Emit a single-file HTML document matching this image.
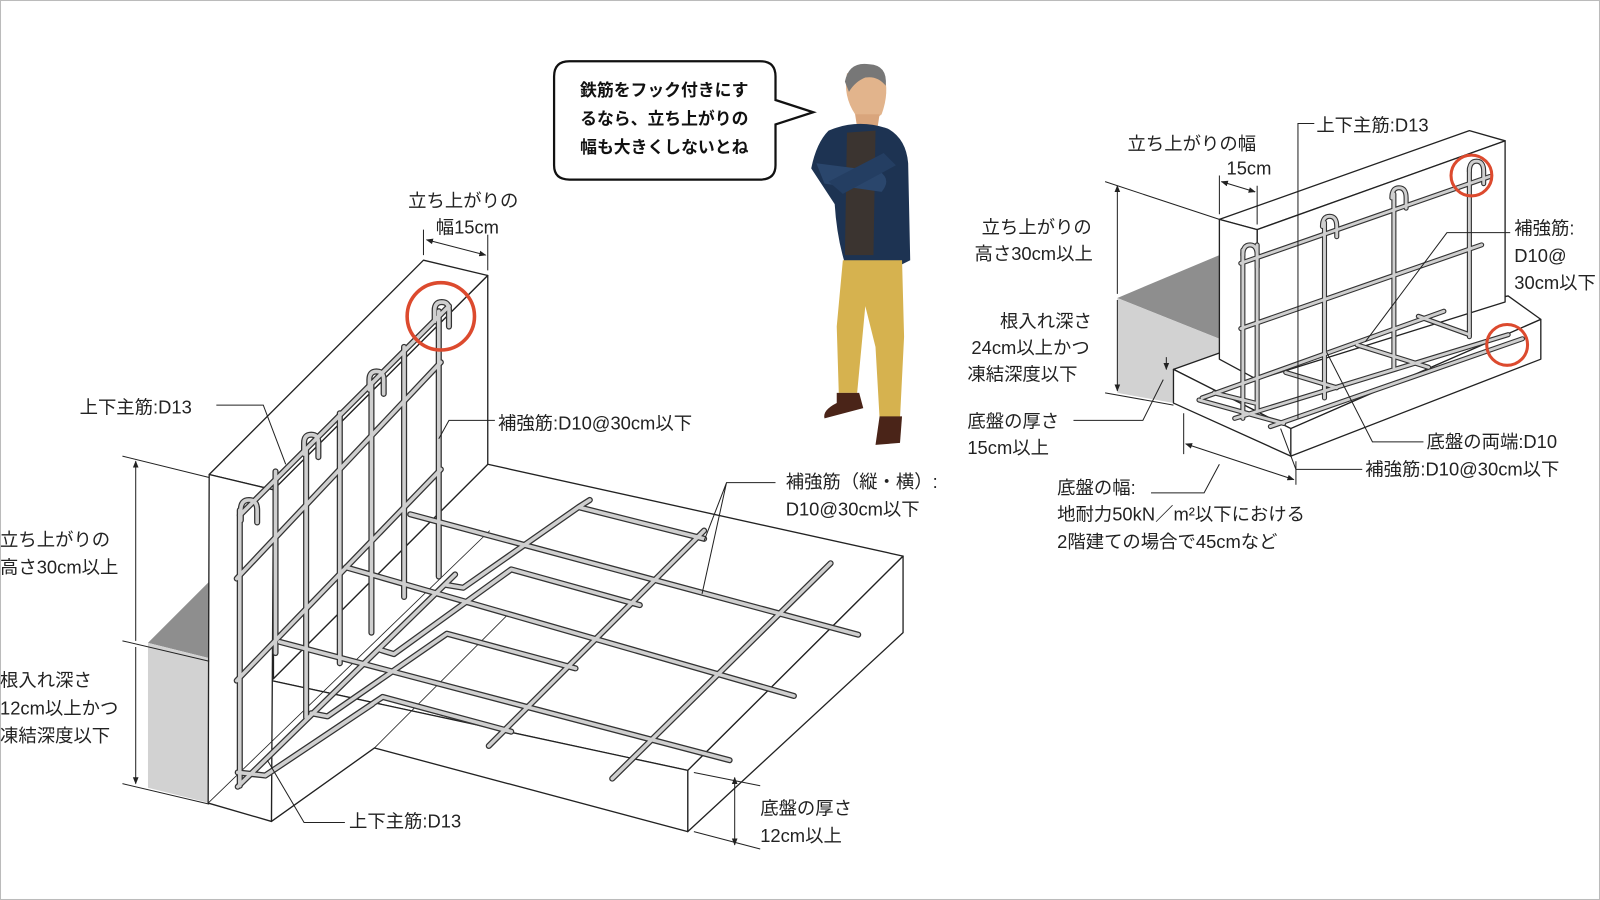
<!DOCTYPE html>
<html><head><meta charset="utf-8"><style>
html,body{margin:0;padding:0;background:#fff;}
svg{display:block;}
text{font-family:"Liberation Sans","Noto Sans CJK JP",sans-serif;font-size:18px;fill:#222;}
.b{font-weight:bold;font-size:16.5px;fill:#111;}
</style></head><body>
<svg width="1600" height="900" viewBox="0 0 1568 882" xmlns="http://www.w3.org/2000/svg">
<defs>
<marker id="ar" viewBox="0 0 10 10" refX="9" refY="5" markerWidth="7" markerHeight="7" orient="auto-start-reverse"><path d="M0,1 L10,5 L0,9 z" fill="#222"/></marker>
<g id="barsL" fill="none" stroke-linecap="round" stroke-linejoin="round">
<!-- slab long bars -->
<path d="M402,504 L841,622 M339,556 L778,682 M274,629 L715,745"/>
<!-- slab A-direction bars -->
<path d="M690,520 L479,731 M814,552 L600,763"/>
<!-- bent bars -->
<path d="M690,528 L567,497 L454,576 L436,573 M567,497 L578,490"/>
<path d="M627,593 L501,558 L386,641 L373,637"/>
<path d="M564,655 L438,621 L321,702 L305,699"/>
<path d="M501,717 L375,683 L260,760 L233,757"/>
<!-- wall verticals -->
<path d="M235,500 V770 M270,462 V640 M300,440 V703 M333,405 V650 M364,375 V620 M396,340 V585 M430,305 V565"/>
<!-- wall main bar and horizontals -->
<path d="M235,505 L440,300 M232,567 L432,355 M232,667 L432,460 M233,771 L446,563 M260,760 L365,690"/>
<!-- hooks -->
<path d="M236,510 V500 Q236,490 244,490 Q252,490 252,500 V512 M298,445 V434 Q298,426 305,426 Q312,426 312,434 V448 M362,382 V372 Q362,364 369,364 Q376,364 376,372 V386 M426,315 V304 Q426,296 433,296 Q440,296 440,304 V320"/>
</g>
<g id="barsR" fill="none" stroke-linecap="round" stroke-linejoin="round">
<path d="M1216,258 L1460,173 M1216,322 L1452,240 M1218,245 V410 M1232,240 V402 M1298,218 V390 M1366,190 V360 M1440,165 V330"/>
<path d="M1218,250 Q1218,240 1225,240 Q1232,240 1232,250 V262 M1296,222 Q1296,212 1303,212 Q1310,212 1310,222 V232 M1364,194 Q1364,184 1371,184 Q1378,184 1378,194 V204 M1440,168 Q1440,158 1447,158 Q1454,158 1454,168 V180"/>
<path d="M1178,390 L1415,305 M1210,410 L1478,328 M1245,418 L1492,332 M1175,392 L1258,415 M1260,365 L1310,380 M1330,338 L1400,360 M1390,310 L1440,328 M1190,385 L1230,395"/>
</g>
</defs>
<rect x="0.5" y="0.5" width="1567" height="881" fill="#fff" stroke="#bbb"/>

<!-- LEFT soil -->
<polygon points="145,630 205,570 205,645 145,630" fill="#8e8e8e"/>
<polygon points="145,630 205,645 205,787 145,772" fill="#d2d2d2"/>
<!-- slab -->
<g fill="#fff" stroke="#222" stroke-width="1.3" stroke-linejoin="round">
<polygon points="266,667 478,455 885,545 674,755"/>
<polygon points="674,755 885,545 885,620 674,815"/>
<polygon points="266,667 674,755 674,815 367,733 266,805"/>
<!-- wall -->
<polygon points="205,465 415,255 478,270 268,480"/>
<polygon points="268,480 478,270 478,455 268,665"/>
<polygon points="205,465 268,480 266,805 204,787"/>
</g>
<g stroke="#222" stroke-width="0.8" fill="none">
<path d="M204,787 L480,520 M266,805 L367,733 L500,600"/>
</g>
<use href="#barsL" stroke="#333" stroke-width="6"/>
<use href="#barsL" stroke="#cfcfcf" stroke-width="3.5"/>
<circle cx="432" cy="310" r="33" fill="none" stroke="#dc4a2e" stroke-width="3.5"/>

<!-- left dims & leaders -->
<g stroke="#222" stroke-width="1" fill="none">
<path d="M415,250 V225 M478,265 V230"/>
<path d="M418,235 L476,250" marker-start="url(#ar)" marker-end="url(#ar)"/>
<path d="M133,452 V628 M133,634 V768" marker-start="url(#ar)" marker-end="url(#ar)"/>
<path d="M120,447 L205,468 M120,628 L205,648 M120,768 L205,788"/>
<path d="M720,762 V828" marker-start="url(#ar)" marker-end="url(#ar)"/>
<path d="M680,757 L745,770 M680,815 L745,832"/>
<path d="M212,397 H258 L280,455 M430,430 L440,412 H485 M760,473 H712 L690,530 M712,473 L688,582 M338,806 H298 L262,745"/>
</g>
<text x="400" y="203">立ち上がりの</text>
<text x="427" y="229">幅15cm</text>
<text x="78" y="405">上下主筋:D13</text>
<text x="488" y="421">補強筋:D10@30cm以下</text>
<text x="770" y="478">補強筋（縦・横）:</text>
<text x="770" y="505">D10@30cm以下</text>
<text x="0" y="535">立ち上がりの</text>
<text x="0" y="562">高さ30cm以上</text>
<text x="0" y="673">根入れ深さ</text>
<text x="0" y="700">12cm以上かつ</text>
<text x="0" y="727">凍結深度以下</text>
<text x="342" y="811">上下主筋:D13</text>
<text x="745" y="798">底盤の厚さ</text>
<text x="745" y="825">12cm以上</text>

<!-- speech bubble -->
<path d="M558,60 H745 Q760,60 760,75 V98 L797,110 L760,122 V162 Q760,176 745,176 H558 Q543,176 543,162 V75 Q543,60 558,60 Z" fill="#fff" stroke="#111" stroke-width="2.2"/>
<text class="b" x="651" y="94" text-anchor="middle">鉄筋をフック付きにす</text>
<text class="b" x="651" y="122" text-anchor="middle">るなら、立ち上がりの</text>
<text class="b" x="651" y="150" text-anchor="middle">幅も大きくしないとね</text>

<!-- man -->
<g>
<path d="M830,72 Q850,60 866,72 Q872,90 864,112 Q852,124 838,112 Q826,94 830,72Z" fill="#e2b48c"/>
<path d="M828,80 Q832,60 852,63 Q870,64 868,84 Q860,74 848,76 Q838,80 832,90Z" fill="#777"/>
<path d="M838,112 L862,112 L860,125 L840,125Z" fill="#d9a57c"/>
<path d="M812,128 Q840,116 870,126 Q888,136 890,160 L892,255 L878,262 L828,258 Q820,232 818,200 L795,165 Q800,140 812,128Z" fill="#1d3352"/>
<path d="M830,130 L858,128 L856,250 L828,250Z" fill="#3b3430"/>
<path d="M800,160 L862,168 Q874,176 864,188 L808,180 Z" fill="#2a466c"/>
<path d="M812,178 L866,150 L878,162 L826,190 Z" fill="#243e62"/>
<path d="M826,255 L884,255 L886,330 L882,410 L862,410 L858,340 L848,300 L840,385 L822,385 L820,320Z" fill="#d6b24f"/>
<path d="M820,385 L842,385 L846,400 L808,410 Q806,402 820,395Z" fill="#4a2418"/>
<path d="M862,408 L884,408 L882,434 L858,436 Z" fill="#4a2418"/>
</g>

<!-- RIGHT soil -->
<polygon points="1095,292 1195,250 1195,332" fill="#8e8e8e"/>
<polygon points="1095,292 1195,332 1195,352 1150,362 1150,395 1095,385" fill="#d2d2d2"/>
<g fill="#fff" stroke="#222" stroke-width="1.3" stroke-linejoin="round">
<polygon points="1150,362 1195,346 1478,290 1510,313 1265,420"/>
<polygon points="1265,420 1510,313 1510,352 1265,447"/>
<polygon points="1150,362 1265,420 1265,447 1150,395"/>
<polygon points="1195,215 1440,128 1475,138 1232,225"/>
<polygon points="1232,225 1475,138 1475,296 1232,372"/>
<polygon points="1195,215 1232,225 1232,372 1195,352"/>
</g>
<use href="#barsR" stroke="#333" stroke-width="5"/>
<use href="#barsR" stroke="#cfcfcf" stroke-width="2.8"/>
<circle cx="1442" cy="172" r="20" fill="none" stroke="#dc4a2e" stroke-width="3"/>
<circle cx="1477" cy="338" r="20" fill="none" stroke="#dc4a2e" stroke-width="3"/>
<g stroke="#222" stroke-width="1" fill="none">
<path d="M1195,210 V172 M1232,220 V182"/>
<path d="M1197,178 L1230,188" marker-start="url(#ar)" marker-end="url(#ar)"/>
<path d="M1095,182 V288 M1095,294 V383" marker-start="url(#ar)" marker-end="url(#ar)"/>
<path d="M1083,178 L1195,215 M1083,385 L1150,397"/>
<path d="M1143,350 V362" marker-end="url(#ar)"/>
<path d="M1052,412 H1120 L1140,372"/>
<path d="M1160,405 V445 M1270,452 V475"/>
<path d="M1162,435 L1268,470" marker-start="url(#ar)" marker-end="url(#ar)"/>
<path d="M1128,483 H1180 L1195,455"/>
<path d="M1288,121 H1272 V410 M1480,228 H1418 L1338,335 M1395,433 H1345 L1300,345 M1335,460 H1270 L1255,420"/>
</g>
<text x="1290" y="129">上下主筋:D13</text>
<text x="1105" y="147">立ち上がりの幅</text>
<text x="1202" y="171">15cm</text>
<text x="962" y="229">立ち上がりの</text>
<text x="955" y="255">高さ30cm以上</text>
<text x="1484" y="230">補強筋:</text>
<text x="1484" y="257">D10@</text>
<text x="1484" y="283">30cm以下</text>
<text x="980" y="321">根入れ深さ</text>
<text x="952" y="347">24cm以上かつ</text>
<text x="948" y="373">凍結深度以下</text>
<text x="948" y="419">底盤の厚さ</text>
<text x="948" y="445">15cm以上</text>
<text x="1398" y="439">底盤の両端:D10</text>
<text x="1338" y="466">補強筋:D10@30cm以下</text>
<text x="1036" y="484">底盤の幅:</text>
<text x="1036" y="510">地耐力50kN／m²以下における</text>
<text x="1036" y="537">2階建ての場合で45cmなど</text>
</svg>
</body></html>
